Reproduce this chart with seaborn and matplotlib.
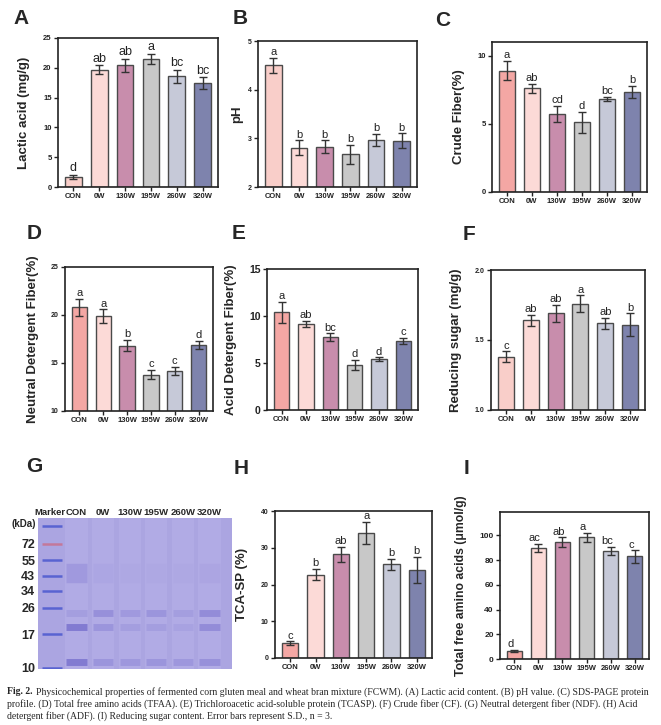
import numpy as np
import pandas as pd
import seaborn as sns
import matplotlib.pyplot as plt

sns.set_theme(style='ticks')
plt.rcParams['font.family'] = ['Liberation Sans', 'DejaVu Sans']

groups = ['CON', '0W', '130W', '195W', '260W', '320W']

lactic = [1.7, 19.7, 20.4, 21.5, 18.6, 17.4]
lactic_sd = [0.3, 0.7, 1.1, 0.8, 1.1, 1.0]
lactic_lab = ['d', 'ab', 'ab', 'a', 'bc', 'bc']

ph = [4.50, 2.81, 2.83, 2.67, 2.97, 2.95]
ph_sd = [0.15, 0.15, 0.13, 0.20, 0.12, 0.15]
ph_lab = ['a', 'b', 'b', 'b', 'b', 'b']

cf = [8.9, 7.6, 5.7, 5.1, 6.8, 7.35]
cf_sd = [0.7, 0.35, 0.6, 0.8, 0.15, 0.45]
cf_lab = ['a', 'ab', 'cd', 'd', 'bc', 'b']

ndf = [20.8, 19.9, 16.8, 13.8, 14.2, 16.9]
ndf_sd = [0.9, 0.7, 0.6, 0.5, 0.4, 0.4]
ndf_lab = ['a', 'a', 'b', 'c', 'c', 'd']

adf = [10.4, 9.15, 7.75, 4.8, 5.4, 7.35]
adf_sd = [1.1, 0.3, 0.4, 0.5, 0.2, 0.35]
adf_lab = ['a', 'ab', 'bc', 'd', 'd', 'c']

sugar = [1.38, 1.64, 1.69, 1.76, 1.62, 1.61]
sugar_sd = [0.04, 0.04, 0.06, 0.06, 0.04, 0.08]
sugar_lab = ['c', 'ab', 'ab', 'a', 'ab', 'b']

tcasp = [4.0, 22.7, 28.2, 34.0, 25.5, 24.0]
tcasp_sd = [0.5, 1.5, 2.0, 3.0, 1.5, 3.5]
tcasp_lab = ['c', 'b', 'ab', 'a', 'b', 'b']

tfaa = [6.5, 90.0, 94.5, 98.5, 87.5, 83.0]
tfaa_sd = [1.0, 3.5, 4.0, 3.5, 3.0, 5.0]
tfaa_lab = ['d', 'ac', 'ab', 'a', 'bc', 'c']

# gel
lanes = ['Marker', 'CON', '0W', '130W', '195W', '260W', '320W']
marker_kda = [95, 72, 55, 43, 34, 26, 17, 10]
marker_ticks = [72, 55, 43, 34, 26, 17, 10]
band_kda = [45, 24, 19, 11]
band_int = [
    [0.20, 0.05, 0.03, 0.03, 0.03, 0.06],
    [0.15, 0.30, 0.20, 0.25, 0.15, 0.35],
    [0.55, 0.25, 0.15, 0.15, 0.10, 0.35],
    [0.55, 0.25, 0.22, 0.25, 0.22, 0.30],
]

W, H = 661, 725
fig = plt.figure(figsize=(W / 100, H / 100), dpi=100)
fig.patch.set_facecolor('white')


def px_axes(l, t, r, b):
    return fig.add_axes([l / W, 1 - b / H, (r - l) / W, (b - t) / H])


pal = ['#F4A7A4', '#FCDAD7', '#C88DAC', '#C8C8C8', '#C6C9D8', '#7E83AD']
pal_light = ['#F9CEC9'] + pal[1:]


def bar_panel(box, vals, sd, labs, ylabel, ylim, yticks, ylab_x,
              colors=pal, ytick_fs=5.5, xtick_fs=5.5, lab_fs=8, ylab_fs=9.5,
              ytl=None, lab_dx=0.0):
    ax = px_axes(*box)
    df = pd.DataFrame({'group': groups, 'value': vals})
    sns.barplot(data=df, x='group', y='value', hue='group', palette=colors,
                legend=False, width=0.64, edgecolor='#4a4a4a', linewidth=1,
                saturation=1, errorbar=None, ax=ax)
    ax.errorbar(np.arange(6), vals, yerr=sd, fmt='none', ecolor='#333333',
                elinewidth=1, capsize=3, capthick=1)
    span = ylim[1] - ylim[0]
    for i, (v, s, t) in enumerate(zip(vals, sd, labs)):
        ax.text(i + lab_dx, v + s + span * 0.005, t, ha='center', va='bottom',
                fontsize=lab_fs, color='#222222')
    ax.set_ylim(*ylim)
    ax.set_yticks(yticks)
    if ytl is not None:
        ax.set_yticklabels(ytl)
    ax.set_xlim(-0.6, 5.6)
    ax.set_xlabel('')
    ax.set_ylabel(ylabel, fontsize=ylab_fs, fontweight='bold')
    ax.yaxis.set_label_coords((ylab_x - box[0]) / (box[2] - box[0]), 0.5)
    for sp in ax.spines.values():
        sp.set_linewidth(1.2)
        sp.set_color('#222222')
    ax.tick_params(axis='both', length=3, width=1, pad=1.5, colors='#222222')
    ax.tick_params(axis='x', labelsize=xtick_fs)
    ax.tick_params(axis='y', labelsize=ytick_fs)
    for lb in ax.get_xticklabels() + ax.get_yticklabels():
        lb.set_fontweight('bold')
    return ax


bar_panel((58, 38, 218, 187), lactic, lactic_sd, lactic_lab, 'Lactic acid (mg/g)',
          (0, 25), [0, 5, 10, 15, 20, 25], 30, colors=pal_light, lab_fs=9)
bar_panel((258, 41, 417, 187), ph, ph_sd, ph_lab, 'pH',
          (2, 5), [2, 3, 4, 5], 243, colors=pal_light, ytick_fs=5)
bar_panel((492, 42, 647, 192), cf, cf_sd, cf_lab, 'Crude Fiber(%)',
          (0, 11), [0, 5, 10], 465)
bar_panel((65, 267, 213, 411), ndf, ndf_sd, ndf_lab, 'Neutral Detergent Fiber(%)',
          (10, 25), [10, 15, 20, 25], 39, ytick_fs=5)
bar_panel((267, 269, 418, 410), adf, adf_sd, adf_lab, 'Acid Detergent Fiber(%)',
          (0, 15), [0, 5, 10, 15], 237, ytick_fs=7.5)
bar_panel((491, 270, 645, 410), sugar, sugar_sd, sugar_lab, 'Reducing sugar (mg/g)',
          (1.0, 2.0), [1.0, 1.5, 2.0], 462, colors=pal_light, ytick_fs=5,
          ytl=['1.0', '1.5', '2.0'])
bar_panel((275, 511, 432, 658), tcasp, tcasp_sd, tcasp_lab, 'TCA-SP (%)',
          (0, 40), [0, 10, 20, 30, 40], 248, ytick_fs=5)
bar_panel((500, 512, 649, 659), tfaa, tfaa_sd, tfaa_lab, 'Total free amino acids (μmol/g)',
          (0, 119), [0, 20, 40, 60, 80, 100], 467, ytick_fs=6, ylab_fs=8.8,
          lab_dx=-0.15)

# SDS-PAGE gel (G)
gx = px_axes(38, 518, 232, 669)
gx.set_facecolor('#ABA5E1')
gx.set_yscale('log')
gx.set_ylim(9.8, 108)
gx.set_xlim(-0.45, 6.85)
for i in range(1, 7):
    gx.axvspan(i - 0.42, i + 0.42, color='#B9B4EA', alpha=0.45, lw=0)
for k in marker_kda:
    gx.hlines(k, -0.3, 0.45, color='#C8708E' if k == 72 else '#4B58CF',
              lw=1.8, alpha=0.85)
for k, ints in zip(band_kda, band_int):
    for i, a in enumerate(ints):
        gx.hlines(k, i + 1 - 0.38, i + 1 + 0.38, color='#5C54C2',
                  lw=5 if k != 45 else 14, alpha=a)
gx.set_xticks(range(7))
gx.set_xticklabels(lanes)
gx.xaxis.tick_top()
gx.set_yticks(marker_ticks)
gx.set_yticklabels([str(k) for k in marker_ticks])
gx.minorticks_off()
gx.tick_params(axis='x', length=0, pad=1, labelsize=6.8)
gx.tick_params(axis='y', length=0, pad=2, labelsize=9)
for lb in gx.get_xticklabels() + gx.get_yticklabels():
    lb.set_fontweight('bold')
for sp in gx.spines.values():
    sp.set_visible(False)
fig.text(12 / W, 1 - 524 / H, '(kDa)', fontsize=7, fontweight='bold',
         ha='left', va='center')

# panel letters
for t, x, y in [('A', 13, 9), ('B', 233, 9), ('C', 435, 11),
                ('D', 27, 224), ('E', 232, 224), ('F', 463, 225),
                ('G', 26, 457), ('H', 234, 459), ('I', 464, 459)]:
    fig.text(x / W, 1 - y / H, t, fontsize=15, fontweight='bold', ha='left', va='top')

# caption
cap = [
    'Physicochemical properties of fermented corn gluten meal and wheat bran mixture (FCWM). (A) Lactic acid content. (B) pH value. (C) SDS-PAGE protein',
    'profile. (D) Total free amino acids (TFAA). (E) Trichloroacetic acid-soluble protein (TCASP). (F) Crude fiber (CF). (G) Neutral detergent fiber (NDF). (H) Acid',
    'detergent fiber (ADF). (I) Reducing sugar content. Error bars represent S.D., n = 3.',
]
cfs = 7.0
fig.text(7 / W, 1 - 692 / H, 'Fig. 2.', fontsize=cfs, fontweight='bold',
         family='Liberation Serif', va='center')
fig.text(36 / W, 1 - 692 / H, cap[0], fontsize=cfs, family='Liberation Serif', va='center')
fig.text(7 / W, 1 - 704 / H, cap[1], fontsize=cfs, family='Liberation Serif', va='center')
fig.text(7 / W, 1 - 716 / H, cap[2], fontsize=cfs, family='Liberation Serif', va='center')

fig.savefig('out.png', dpi=100)
